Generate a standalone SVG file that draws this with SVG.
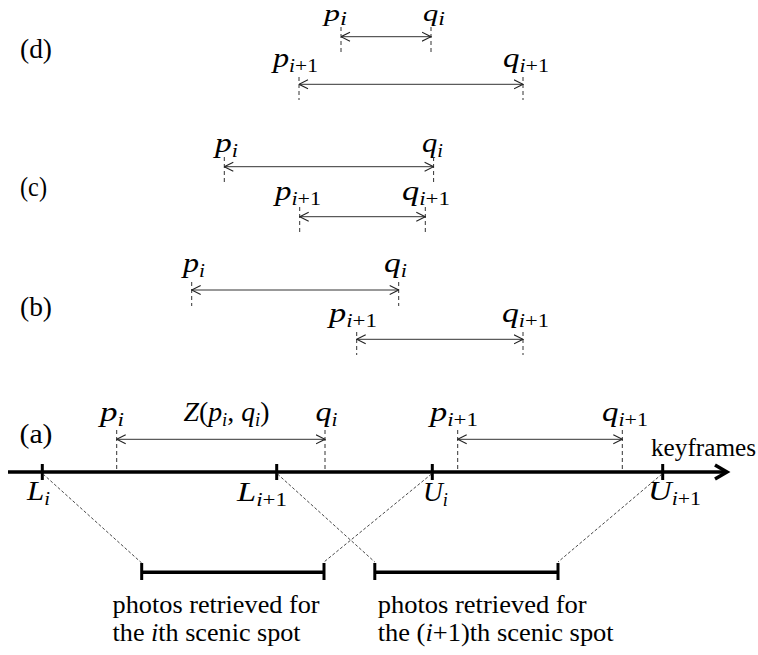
<svg xmlns="http://www.w3.org/2000/svg" width="758" height="655" viewBox="0 0 758 655">
<defs>
<marker id="ah" viewBox="0 0 10 10" refX="9.5" refY="5" markerUnits="userSpaceOnUse" markerWidth="10" markerHeight="11" orient="auto-start-reverse">
<path d="M0.5,0.5 L9.5,5 L0.5,9.5" fill="none" stroke="#222" stroke-width="1.1"/>
</marker>
<style>
.lbl{font-family:"Liberation Serif","Times New Roman",serif;font-size:27px;fill:#000}
.txt{font-family:"Liberation Serif","Times New Roman",serif;font-size:26px;fill:#000}
.m{font-family:"Liberation Serif","Times New Roman",serif;font-style:italic;font-size:27px;fill:#000}
.mt{font-size:23px}
.s{font-size:18px}
.up{font-style:normal}
.iv{stroke:#333;stroke-width:1;fill:none;marker-start:url(#ah);marker-end:url(#ah)}
.vd{stroke:#333;stroke-width:1;stroke-dasharray:4,3;fill:none}
.dg{stroke:#333;stroke-width:0.9;stroke-dasharray:3,2;fill:none}
.thick{stroke:#000;stroke-width:3.5;fill:none}
.tick{stroke:#000;stroke-width:3;fill:none}
</style>
</defs>

<g id="row-d">
<text class="lbl" x="20" y="58" textLength="32" lengthAdjust="spacingAndGlyphs">(d)</text>
<text class="m mt" x="324" y="21" textLength="23" lengthAdjust="spacingAndGlyphs">p<tspan class="s" dy="4">i</tspan></text>
<text class="m mt" x="423" y="21" textLength="22" lengthAdjust="spacingAndGlyphs">q<tspan class="s" dy="4">i</tspan></text>
<text class="m" x="273" y="67" textLength="45" lengthAdjust="spacingAndGlyphs">p<tspan class="s" dy="5">i<tspan class="up">+1</tspan></tspan></text>
<text class="m" x="503" y="67" textLength="46" lengthAdjust="spacingAndGlyphs">q<tspan class="s" dy="5">i<tspan class="up">+1</tspan></tspan></text>
</g>

<g id="row-c">
<text class="lbl" x="20" y="196" textLength="27" lengthAdjust="spacingAndGlyphs">(c)</text>
<text class="m" x="215" y="152" textLength="23" lengthAdjust="spacingAndGlyphs">p<tspan class="s" dy="5">i</tspan></text>
<text class="m" x="422" y="152" textLength="21" lengthAdjust="spacingAndGlyphs">q<tspan class="s" dy="5">i</tspan></text>
<text class="m" x="275" y="200" textLength="46" lengthAdjust="spacingAndGlyphs">p<tspan class="s" dy="5">i<tspan class="up">+1</tspan></tspan></text>
<text class="m" x="402" y="200" textLength="48" lengthAdjust="spacingAndGlyphs">q<tspan class="s" dy="5">i<tspan class="up">+1</tspan></tspan></text>
</g>

<g id="row-b">
<text class="lbl" x="20" y="316" textLength="32" lengthAdjust="spacingAndGlyphs">(b)</text>
<text class="m" x="183" y="272" textLength="22" lengthAdjust="spacingAndGlyphs">p<tspan class="s" dy="5">i</tspan></text>
<text class="m" x="384" y="272" textLength="23" lengthAdjust="spacingAndGlyphs">q<tspan class="s" dy="5">i</tspan></text>
<text class="m" x="329" y="322" textLength="48" lengthAdjust="spacingAndGlyphs">p<tspan class="s" dy="5">i<tspan class="up">+1</tspan></tspan></text>
<text class="m" x="502" y="322" textLength="47" lengthAdjust="spacingAndGlyphs">q<tspan class="s" dy="5">i<tspan class="up">+1</tspan></tspan></text>
</g>

<g id="row-a">
<text class="lbl" x="19.5" y="443" textLength="33" lengthAdjust="spacingAndGlyphs">(a)</text>
<text class="m" x="100" y="421" textLength="24" lengthAdjust="spacingAndGlyphs">p<tspan class="s" dy="5">i</tspan></text>
<text class="m" x="183.5" y="421" textLength="86" lengthAdjust="spacingAndGlyphs">Z<tspan class="up">(</tspan>p<tspan class="s" dy="5">i</tspan><tspan class="up" dy="-5">,</tspan> q<tspan class="s" dy="5">i</tspan><tspan class="up" dy="-5">)</tspan></text>
<text class="m" x="315.5" y="421" textLength="22" lengthAdjust="spacingAndGlyphs">q<tspan class="s" dy="5">i</tspan></text>
<text class="m" x="430" y="421" textLength="48" lengthAdjust="spacingAndGlyphs">p<tspan class="s" dy="5">i<tspan class="up">+1</tspan></tspan></text>
<text class="m" x="602" y="421" textLength="46" lengthAdjust="spacingAndGlyphs">q<tspan class="s" dy="5">i<tspan class="up">+1</tspan></tspan></text>
<text class="txt" x="651" y="456" textLength="105" lengthAdjust="spacingAndGlyphs">keyframes</text>
</g>

<g id="axis">
<line class="thick" x1="8" y1="472" x2="727" y2="472"/>
<polyline class="thick" points="715,465 727,472 715,479"/>
<line class="tick" x1="42.3" y1="464" x2="42.3" y2="480"/>
<line class="tick" x1="276.7" y1="464" x2="276.7" y2="480"/>
<line class="tick" x1="432.3" y1="464" x2="432.3" y2="480"/>
<line class="tick" x1="662.7" y1="464" x2="662.7" y2="480"/>
<text class="m" x="27" y="500" textLength="23" lengthAdjust="spacingAndGlyphs">L<tspan class="s" dy="5">i</tspan></text>
<text class="m" x="237" y="501" textLength="50" lengthAdjust="spacingAndGlyphs">L<tspan class="s" dy="5">i<tspan class="up">+1</tspan></tspan></text>
<text class="m" x="423" y="501" textLength="25" lengthAdjust="spacingAndGlyphs">U<tspan class="s" dy="5">i</tspan></text>
<text class="m" x="648" y="500" textLength="53" lengthAdjust="spacingAndGlyphs">U<tspan class="s" dy="5">i<tspan class="up">+1</tspan></tspan></text>
</g>

<g id="photos-i">
<line class="thick" x1="141.7" y1="572.3" x2="324" y2="572.3"/>
<line class="tick" x1="141.7" y1="563" x2="141.7" y2="580"/>
<line class="tick" x1="324" y1="563" x2="324" y2="580"/>
<text class="txt" x="112.6" y="612.5" textLength="207" lengthAdjust="spacingAndGlyphs">photos retrieved for</text>
<text class="txt" x="112.6" y="641" textLength="188" lengthAdjust="spacingAndGlyphs">the <tspan font-style="italic">i</tspan>th scenic spot</text>
</g>

<g id="photos-i1">
<line class="thick" x1="374.8" y1="572.3" x2="558" y2="572.3"/>
<line class="tick" x1="374.8" y1="563" x2="374.8" y2="580"/>
<line class="tick" x1="558" y1="563" x2="558" y2="580"/>
<text class="txt" x="377.7" y="612.5" textLength="209" lengthAdjust="spacingAndGlyphs">photos retrieved for</text>
<text class="txt" x="377.7" y="641" textLength="236" lengthAdjust="spacingAndGlyphs">the (<tspan font-style="italic">i</tspan>+1)th scenic spot</text>
</g>

<g id="connectors">
<line class="vd" x1="341" y1="27" x2="341" y2="52"/>
<line class="vd" x1="431" y1="27" x2="431" y2="52"/>
<line class="iv" x1="341" y1="36.7" x2="431" y2="36.7"/>
<line class="vd" x1="299" y1="77" x2="299" y2="100"/>
<line class="vd" x1="523" y1="77" x2="523" y2="100"/>
<line class="iv" x1="299" y1="84.3" x2="523" y2="84.3"/>
<line class="vd" x1="224.3" y1="157" x2="224.3" y2="182"/>
<line class="vd" x1="433.6" y1="157" x2="433.6" y2="182"/>
<line class="iv" x1="224.3" y1="166.7" x2="433.6" y2="166.7"/>
<line class="vd" x1="299.7" y1="207" x2="299.7" y2="232"/>
<line class="vd" x1="425.3" y1="207" x2="425.3" y2="232"/>
<line class="iv" x1="299.7" y1="216.7" x2="425.3" y2="216.7"/>
<line class="vd" x1="191.7" y1="282" x2="191.7" y2="306"/>
<line class="vd" x1="398.7" y1="282" x2="398.7" y2="306"/>
<line class="iv" x1="191.7" y1="290" x2="398.7" y2="290"/>
<line class="vd" x1="356.7" y1="332" x2="356.7" y2="355"/>
<line class="vd" x1="523" y1="332" x2="523" y2="355"/>
<line class="iv" x1="356.7" y1="339.3" x2="523" y2="339.3"/>
<line class="vd" x1="116.7" y1="430" x2="116.7" y2="470"/>
<line class="vd" x1="325" y1="430" x2="325" y2="470"/>
<line class="iv" x1="116.7" y1="439.3" x2="325" y2="439.3"/>
<line class="vd" x1="457.7" y1="430" x2="457.7" y2="470"/>
<line class="vd" x1="622.3" y1="430" x2="622.3" y2="470"/>
<line class="iv" x1="457.7" y1="439.3" x2="622.3" y2="439.3"/>
<line class="dg" x1="43" y1="474" x2="141.7" y2="563"/>
<line class="dg" x1="277.5" y1="474" x2="374.8" y2="562"/>
<line class="dg" x1="431.5" y1="474" x2="324" y2="562"/>
<line class="dg" x1="662" y1="474" x2="558" y2="562"/>
</g>
</svg>
